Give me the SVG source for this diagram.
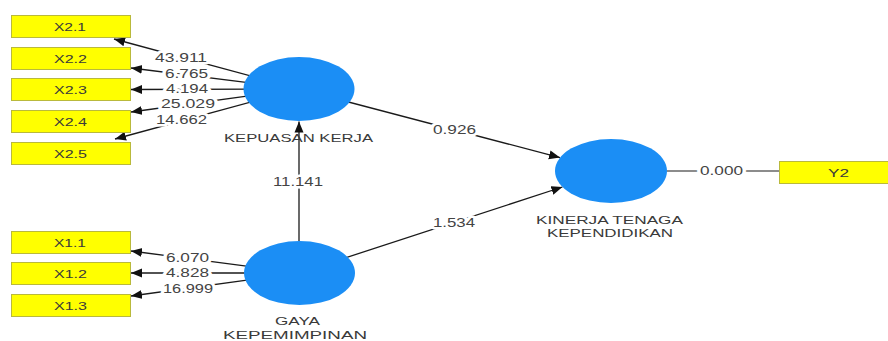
<svg xmlns="http://www.w3.org/2000/svg" width="888" height="341" viewBox="0 0 888 341">
<style>
.bg{fill:#ffffff}
.ind rect{fill:#ffff00;stroke:#b9b93c;stroke-width:1}
.ind text,.lv text{font-family:"Liberation Sans","Open Sans",sans-serif;font-size:11.2px;fill:#3a3a3a}
.lv ellipse{fill:#1b8ef5}
.edge{stroke:#1a1a1a;stroke-width:1.3;fill:none}
.gray{stroke:#666;stroke-width:1.3}
.val{font-family:"Liberation Sans","Open Sans",sans-serif;font-size:12px;fill:#444;stroke:#ffffff;stroke-width:5;paint-order:stroke;stroke-linejoin:round}
</style>
<defs>
<marker id="ah" markerUnits="userSpaceOnUse" markerWidth="12" markerHeight="10" refX="11" refY="5" orient="auto">
<path d="M0,0.5 L11,5 L0,9.5 z" fill="#111"/>
</marker>
</defs>
<rect class="bg" x="0" y="0" width="888" height="341"/>
<g id="connectors">
<line class="edge" x1="299" y1="89" x2="114" y2="39" marker-end="url(#ah)"/>
<line class="edge" x1="299" y1="89" x2="131" y2="68" marker-end="url(#ah)"/>
<line class="edge" x1="299" y1="89" x2="131" y2="89.5" marker-end="url(#ah)"/>
<line class="edge" x1="299" y1="89" x2="131" y2="112" marker-end="url(#ah)"/>
<line class="edge" x1="299" y1="89" x2="115" y2="139" marker-end="url(#ah)"/>
<line class="edge" x1="299" y1="273" x2="131" y2="251" marker-end="url(#ah)"/>
<line class="edge" x1="299" y1="273" x2="131" y2="273" marker-end="url(#ah)"/>
<line class="edge" x1="299" y1="273" x2="131" y2="296" marker-end="url(#ah)"/>
<line class="edge" x1="299" y1="241" x2="299" y2="121.5" marker-end="url(#ah)"/>
<line class="edge" x1="299" y1="89" x2="560" y2="157.6" marker-end="url(#ah)"/>
<line class="edge" x1="299" y1="273" x2="562.4" y2="187" marker-end="url(#ah)"/>
<line class="gray" x1="667" y1="171" x2="779" y2="171"/>
<text class="val" x="155" y="62" textLength="52" lengthAdjust="spacingAndGlyphs">43.911</text>
<text class="val" x="165" y="78" textLength="43" lengthAdjust="spacingAndGlyphs">6.765</text>
<text class="val" x="166" y="93" textLength="42" lengthAdjust="spacingAndGlyphs">4.194</text>
<text class="val" x="161" y="108" textLength="54" lengthAdjust="spacingAndGlyphs">25.029</text>
<text class="val" x="156" y="124" textLength="51" lengthAdjust="spacingAndGlyphs">14.662</text>
<text class="val" x="166" y="262" textLength="43" lengthAdjust="spacingAndGlyphs">6.070</text>
<text class="val" x="166" y="277" textLength="43" lengthAdjust="spacingAndGlyphs">4.828</text>
<text class="val" x="163" y="293" textLength="50" lengthAdjust="spacingAndGlyphs">16.999</text>
<text class="val" x="273" y="186" textLength="50" lengthAdjust="spacingAndGlyphs">11.141</text>
<text class="val" x="433" y="134" textLength="43" lengthAdjust="spacingAndGlyphs">0.926</text>
<text class="val" x="433" y="227" textLength="42" lengthAdjust="spacingAndGlyphs">1.534</text>
<text class="val" x="700" y="175" textLength="43" lengthAdjust="spacingAndGlyphs">0.000</text>
</g>
<g id="X2.1" class="ind"><rect x="11.5" y="15.5" width="119" height="22"/><text x="54" y="31" textLength="32" lengthAdjust="spacingAndGlyphs">X2.1</text></g>
<g id="X2.2" class="ind"><rect x="11.5" y="47.5" width="119" height="22"/><text x="54" y="63" textLength="33" lengthAdjust="spacingAndGlyphs">X2.2</text></g>
<g id="X2.3" class="ind"><rect x="11.5" y="78.5" width="119" height="22"/><text x="54" y="94" textLength="33" lengthAdjust="spacingAndGlyphs">X2.3</text></g>
<g id="X2.4" class="ind"><rect x="11.5" y="110.5" width="119" height="22"/><text x="54" y="126" textLength="33" lengthAdjust="spacingAndGlyphs">X2.4</text></g>
<g id="X2.5" class="ind"><rect x="11.5" y="142.5" width="119" height="22"/><text x="54" y="158" textLength="33" lengthAdjust="spacingAndGlyphs">X2.5</text></g>
<g id="X1.1" class="ind"><rect x="11.5" y="231.5" width="119" height="22"/><text x="54" y="247" textLength="32" lengthAdjust="spacingAndGlyphs">X1.1</text></g>
<g id="X1.2" class="ind"><rect x="11.5" y="262.5" width="119" height="22"/><text x="54" y="278" textLength="33" lengthAdjust="spacingAndGlyphs">X1.2</text></g>
<g id="X1.3" class="ind"><rect x="11.5" y="294.5" width="119" height="22"/><text x="54" y="310" textLength="33" lengthAdjust="spacingAndGlyphs">X1.3</text></g>
<g id="Y2" class="ind"><rect x="779.5" y="161.5" width="115" height="22"/><text x="828" y="177" textLength="21" lengthAdjust="spacingAndGlyphs">Y2</text></g>
<g id="kepuasan-kerja" class="lv"><ellipse cx="299" cy="89" rx="55.5" ry="32"/><text x="224" y="142" textLength="149" lengthAdjust="spacingAndGlyphs">KEPUASAN KERJA</text></g>
<g id="gaya-kepemimpinan" class="lv"><ellipse cx="299.5" cy="273" rx="55.5" ry="32"/><text x="275" y="325" textLength="45" lengthAdjust="spacingAndGlyphs">GAYA</text><text x="223" y="338.5" textLength="144" lengthAdjust="spacingAndGlyphs">KEPEMIMPINAN</text></g>
<g id="kinerja-tenaga-kependidikan" class="lv"><ellipse cx="611" cy="171" rx="56" ry="32"/><text x="536" y="224" textLength="147" lengthAdjust="spacingAndGlyphs">KINERJA TENAGA</text><text x="547" y="237" textLength="126" lengthAdjust="spacingAndGlyphs">KEPENDIDIKAN</text></g>
</svg>
